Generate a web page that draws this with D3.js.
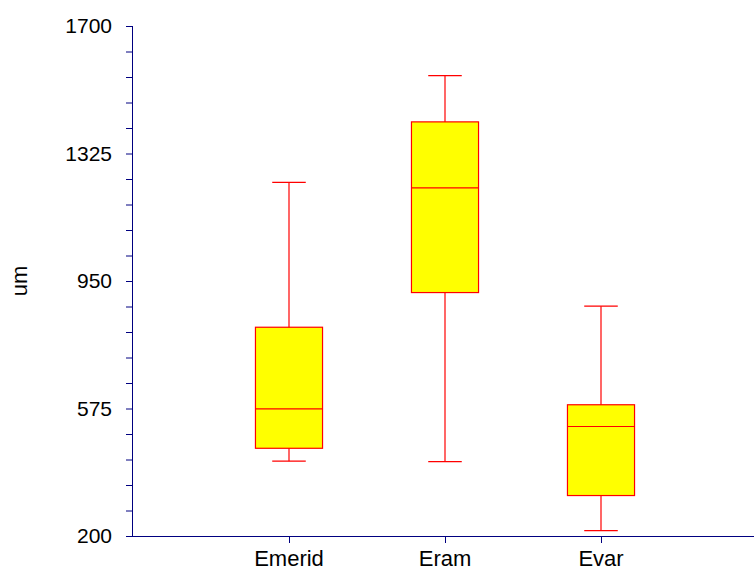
<!DOCTYPE html>
<html>
<head>
<meta charset="utf-8">
<script src="https://cdn.jsdelivr.net/npm/d3@7"></script>
<style>
  body { margin: 0; background: #fff; }
  text { font-family: "Liberation Sans", Arial, sans-serif; fill: #000; }
</style>
</head>
<body>
<div id="chart"></div>
<script>
// box plot values
const categories = ['Emerid', 'Eram', 'Evar']
const whiskerLow = [420, 419, 216]
const q1 = [458, 916, 319]
const median = [574, 1224, 522]
const q3 = [814, 1418, 586]
const whiskerHigh = [1240, 1554, 876]
const yTicks = [200, 575, 950, 1325, 1700]

const data = categories.map((name, i) => ({
  name,
  lo: whiskerLow[i], q1: q1[i], med: median[i], q3: q3[i], hi: whiskerHigh[i]
}))

const width = 754, height = 571
const margin = { left: 133, top: 26, bottom: 35 }

const svg = d3.select('#chart')
  .append('svg')
  .attr('width', width)
  .attr('height', height)

const x = d3.scalePoint()
  .domain(categories)
  .range([margin.left, 757])
  .padding(1)

const y = d3.scaleLinear()
  .domain([200, 1700])
  .range([height - margin.bottom, margin.top])

const boxW = x.step() * 0.43
const capW = boxW / 2
const red = '#ff0000'
const navy = '#000080'

// whiskers
const boxes = svg.append('g').selectAll('g')
  .data(data)
  .join('g')

boxes.append('line')
  .attr('x1', d => x(d.name)).attr('x2', d => x(d.name))
  .attr('y1', d => y(d.lo)).attr('y2', d => y(d.hi))
  .attr('stroke', red).attr('stroke-width', 1.2)

boxes.append('line')
  .attr('x1', d => x(d.name) - capW / 2).attr('x2', d => x(d.name) + capW / 2)
  .attr('y1', d => y(d.hi)).attr('y2', d => y(d.hi))
  .attr('stroke', red).attr('stroke-width', 1.2)

boxes.append('line')
  .attr('x1', d => x(d.name) - capW / 2).attr('x2', d => x(d.name) + capW / 2)
  .attr('y1', d => y(d.lo)).attr('y2', d => y(d.lo))
  .attr('stroke', red).attr('stroke-width', 1.2)

boxes.append('rect')
  .attr('x', d => x(d.name) - boxW / 2)
  .attr('width', boxW)
  .attr('y', d => y(d.q3))
  .attr('height', d => y(d.q1) - y(d.q3))
  .attr('fill', '#ffff00')
  .attr('stroke', red)
  .attr('stroke-width', 1.2)

boxes.append('line')
  .attr('x1', d => x(d.name) - boxW / 2).attr('x2', d => x(d.name) + boxW / 2)
  .attr('y1', d => y(d.med)).attr('y2', d => y(d.med))
  .attr('stroke', red).attr('stroke-width', 1.2)

// y axis
const yAxis = svg.append('g')
  .attr('transform', `translate(${margin.left},0)`)
  .call(d3.axisLeft(y).tickValues(d3.range(200, 1701, 75)).tickSize(7).tickFormat(''))
yAxis.selectAll('line, path').attr('stroke', navy)
yAxis.select('.domain').attr('d', `M-0.5,${y(1700)}V${y(200)}`)

svg.append('g').selectAll('text')
  .data(yTicks)
  .join('text')
  .attr('x', 112)
  .attr('y', d => y(d))
  .attr('dy', '0.35em')
  .attr('text-anchor', 'end')
  .attr('font-size', 21)
  .text(d => d)

// x axis
const xAxis = svg.append('g')
  .attr('transform', `translate(0,${y(200)})`)
  .call(d3.axisBottom(x).tickSize(7).tickFormat(''))
xAxis.selectAll('line, path').attr('stroke', navy)
xAxis.select('.domain').attr('d', `M${margin.left},0.5H757`)

svg.append('g').selectAll('text')
  .data(categories)
  .join('text')
  .attr('x', d => x(d))
  .attr('y', 566)
  .attr('text-anchor', 'middle')
  .attr('font-size', 22)
  .text(d => d)

svg.append('text')
  .attr('transform', `translate(27,${(y(200) + y(1700)) / 2}) rotate(-90)`)
  .attr('text-anchor', 'middle')
  .attr('font-size', 22)
  .text('um')
</script>
</body>
</html>
